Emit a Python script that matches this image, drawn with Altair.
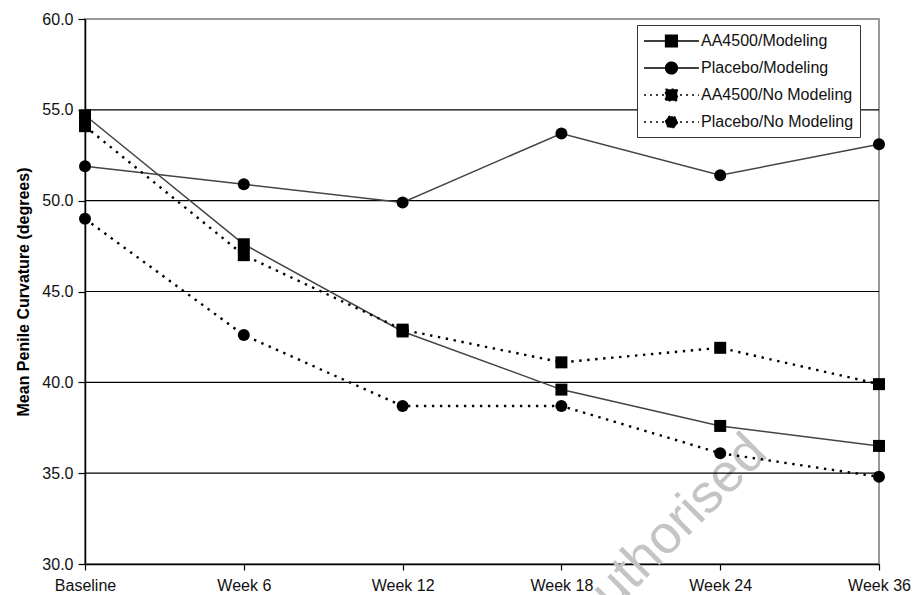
import altair as alt
import pandas as pd

weeks = ["Baseline", "Week 6", "Week 12", "Week 18", "Week 24", "Week 36"]
series_names = ["AA4500/Modeling", "Placebo/Modeling", "AA4500/No Modeling", "Placebo/No Modeling"]
aa_modeling = [54.7, 47.6, 42.8, 39.6, 37.6, 36.5]
placebo_modeling = [51.9, 50.9, 49.9, 53.7, 51.4, 53.1]
aa_no_modeling = [54.1, 47.0, 42.9, 41.1, 41.9, 39.9]
placebo_no_modeling = [49.0, 42.6, 38.7, 38.7, 36.1, 34.8]
y_ticks = [30, 35, 40, 45, 50, 55, 60]
grid_values = [35, 40, 45, 50, 55]

values = [aa_modeling, placebo_modeling, aa_no_modeling, placebo_no_modeling]
rows = []
for name, vals in zip(series_names, values):
    for w, v in zip(weeks, vals):
        rows.append({
            "week": w, "value": v, "series": name,
            "drug": "AA4500" if name.startswith("AA4500") else "Placebo",
            "modeling": "No" if "No Modeling" in name else "Yes",
        })
df = pd.DataFrame(rows)
grid_df = pd.DataFrame({"value": grid_values})

FONT = "Liberation Sans"

x_enc = alt.X("week:N", sort=weeks,
              scale=alt.Scale(type="point", padding=0, domain=weeks),
              axis=alt.Axis(title=None, labelAngle=0, tickSize=6, labelPadding=7))
y_enc = alt.Y("value:Q", scale=alt.Scale(domain=[30, 60], nice=False, zero=False),
              axis=alt.Axis(title="Mean Penile Curvature (degrees)", values=y_ticks,
                            format=".1f", tickSize=7, labelPadding=5, titlePadding=10))

watermark = alt.Chart(pd.DataFrame({"t": ["authorised"]})).mark_text(
    font=FONT, fontSize=54, color="#c4c4c4", align="right", baseline="middle", angle=315
).encode(text="t:N", x=alt.value(673), y=alt.value(425))

grid = alt.Chart(grid_df).mark_rule(color="black", strokeWidth=1.2).encode(y=y_enc)

solid = alt.Chart(df).transform_filter("datum.modeling == 'Yes'").mark_line(
    color="#444", strokeWidth=1.5
).encode(x=x_enc, y=y_enc, detail="series:N")

dotted = alt.Chart(df).transform_filter("datum.modeling == 'No'").mark_line(
    color="black", strokeWidth=2.4, strokeDash=[2.4, 5.6]
).encode(x=x_enc, y=y_enc, detail="series:N")

squares = alt.Chart(df).transform_filter("datum.drug == 'AA4500'").mark_square(
    size=144, color="black", opacity=1
).encode(x=x_enc, y=y_enc)

circles = alt.Chart(df).transform_filter("datum.drug == 'Placebo'").mark_circle(
    size=144, color="black", opacity=1
).encode(x=x_enc, y=y_enc)

# legend symbols: a short line with the marker in its middle (unit = 9 px)
sq_path = "M-1,0L5.1,0M1.4,-0.65L2.7,-0.65L2.7,0.65L1.4,0.65Z"
ci_path = "M-1,0L5.1,0M2.7,0A0.65,0.65,0,1,1,1.4,0A0.65,0.65,0,1,1,2.7,0Z"
leg = alt.Legend(title=None, labelExpr="datum.label + '   '")
legend_layer = alt.Chart(df).transform_filter("false").mark_point(
    filled=False, fill="black", strokeWidth=1.5, opacity=1
).encode(
    color=alt.Color("series:N", scale=alt.Scale(domain=series_names,
                                                range=["black", "black", "black", "black"]),
                    legend=leg),
    shape=alt.Shape("series:N", scale=alt.Scale(domain=series_names,
                                                range=[sq_path, ci_path, sq_path, ci_path]),
                    legend=leg),
    strokeDash=alt.StrokeDash("series:N", scale=alt.Scale(domain=series_names,
                                                          range=[[1, 0], [1, 0], [2, 4], [2, 4]]),
                              legend=leg),
)

chart = alt.layer(watermark, grid, solid, dotted, squares, circles, legend_layer).properties(
    width=794, height=545,
    autosize=alt.AutoSizeParams(type="none"),
    padding={"left": 85, "top": 19, "right": 35, "bottom": 31},
    background="white",
).configure_view(stroke="#999", strokeWidth=2).configure_axis(
    labelFont=FONT, labelFontSize=16, labelColor="#111", titleFont=FONT,
    titleFontSize=16, titleFontWeight="bold", titleColor="black",
    domainColor="black", domainWidth=1.5, tickColor="black", tickWidth=1.2, grid=False,
).configure_legend(
    orient="none", legendX=552, legendY=6, symbolSize=324, labelFont=FONT,
    labelFontSize=16, labelColor="#111", labelOffset=38, strokeColor="#333",
    fillColor="white", padding=6, symbolStrokeWidth=1.5, rowPadding=8,
)

chart.save("out.html", embed_options={"renderer": "svg", "actions": False})
